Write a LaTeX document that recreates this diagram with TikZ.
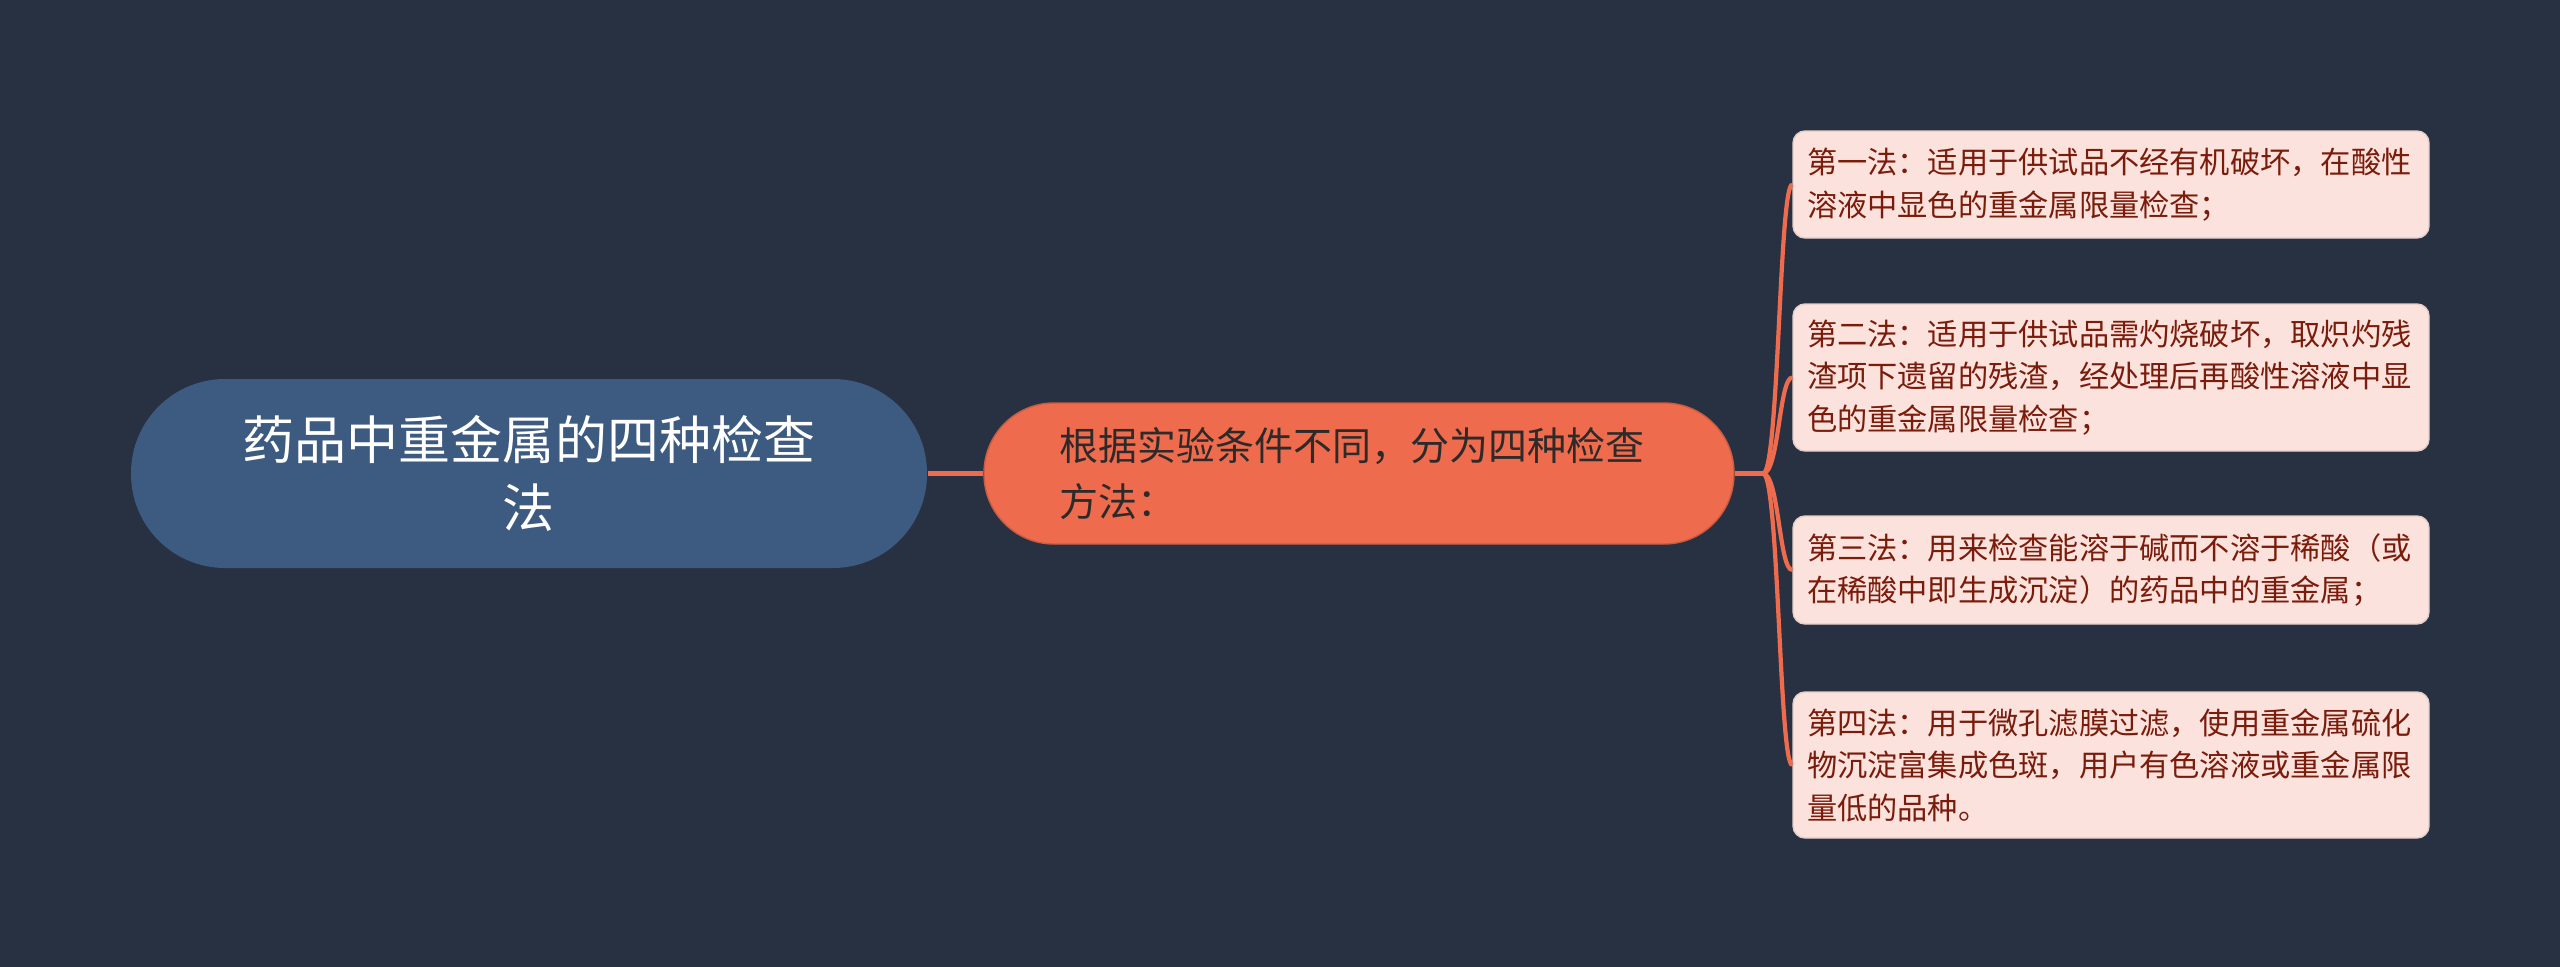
\documentclass[tikz,border=0pt]{standalone}
\usepackage{fontspec}
\setmainfont{Noto Sans CJK SC}

\definecolor{bgdark}{HTML}{283142}
\definecolor{rootblue}{HTML}{3D5A80}
\definecolor{midorange}{HTML}{EE6C4D}
\definecolor{leafpink}{HTML}{FCE2DC}
\definecolor{leaftext}{HTML}{7A1C0C}
\definecolor{midtext}{HTML}{2E2A2A}

\begin{document}
\begin{tikzpicture}[
    rootnode/.style={fill=rootblue, rounded corners=0.94cm, minimum width=7.96cm, minimum height=1.89cm,
        text=white, align=center, font=\fontsize{14.8}{19.5}\selectfont},
    midnode/.style={fill=midorange, draw=midorange!85!black, line width=0.4pt, rounded corners=0.7cm,
        minimum width=7.5cm, minimum height=1.41cm, text width=6.0cm, align=left, text=midtext,
        font=\fontsize{11.1}{15.8}\selectfont},
    leafnode/.style={fill=leafpink, draw=leafpink!80!gray, line width=0.4pt, rounded corners=0.12cm,
        minimum width=6.36cm, text width=6.08cm, inner xsep=0.14cm, align=left, text=leaftext,
        font=\fontsize{8.6}{12.1}\selectfont},
    link/.style={midorange, line width=1.2pt}
]
        \fill[bgdark] (0,0) rectangle (25.6,-9.67);
        \useasboundingbox (0,0) rectangle (25.6,-9.67);

        \node[rootnode] (root) at (5.29,-4.735) {药品中重金属的四种检查\\法};
        \node[midnode] (mid) at (13.59,-4.735) {根据实验条件不同，分为四种检查\\方法：};

        \node[leafnode, minimum height=1.07cm] (l1) at (21.11,-1.845) {第一法：适用于供试品不经有机破坏，在酸性\\溶液中显色的重金属限量检查；};
        \node[leafnode, minimum height=1.47cm] (l2) at (21.11,-3.775) {第二法：适用于供试品需灼烧破坏，取炽灼残\\渣项下遗留的残渣，经处理后再酸性溶液中显\\色的重金属限量检查；};
        \node[leafnode, minimum height=1.08cm] (l3) at (21.11,-5.70) {第三法：用来检查能溶于碱而不溶于稀酸（或\\在稀酸中即生成沉淀）的药品中的重金属；};
        \node[leafnode, minimum height=1.46cm] (l4) at (21.11,-7.65) {第四法：用于微孔滤膜过滤，使用重金属硫化\\物沉淀富集成色斑，用户有色溶液或重金属限\\量低的品种。};

        \coordinate (jn) at (17.63,-4.735);
        \draw[link] (root.east) -- (mid.west);
        \draw[link] (mid.east) -- (jn);
        \foreach \n in {l1,l2,l3,l4}
            \draw[link] (jn) .. controls ([xshift=1.6mm]jn) and ([xshift=1.6mm]jn |- \n.west) .. (\n.west);
    \end{tikzpicture}
\end{document}
